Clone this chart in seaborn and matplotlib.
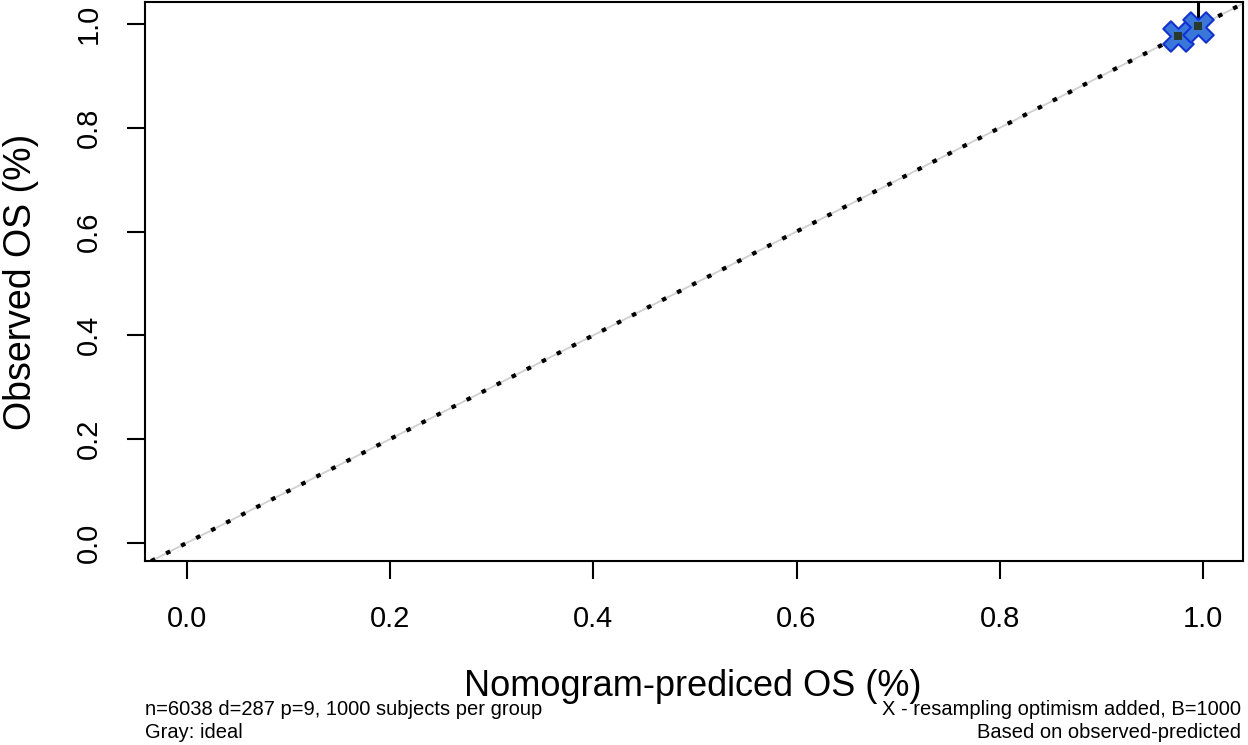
import matplotlib
matplotlib.use("Agg")
import matplotlib.pyplot as plt
import seaborn as sns
import numpy as np
import pandas as pd

# Data
ideal_x = [-0.05, 1.05]
ideal_y = [-0.05, 1.05]
pred = [0.9755, 0.9950]
observed = [0.9775, 0.9960]
corrected = [0.9770, 0.9950]
ci_lower = [0.9700, 0.9850]
ci_upper = [0.9860, 1.0600]
x_ticks = [0.0, 0.2, 0.4, 0.6, 0.8, 1.0]
y_ticks = [0.0, 0.2, 0.4, 0.6, 0.8, 1.0]

sns.set_theme(style="white")
plt.rcParams['font.family'] = ['Liberation Sans', 'DejaVu Sans']

fig = plt.figure(figsize=(12.48, 7.45), dpi=100)
ax = fig.add_axes([0.116, 0.247, 0.880, 0.750])

ideal = pd.DataFrame({"x": ideal_x, "y": ideal_y})
sns.lineplot(data=ideal, x="x", y="y", ax=ax, color="#d0d0d0", lw=1.3, zorder=1)
dl = sns.lineplot(data=ideal, x="x", y="y", ax=ax, color="black", lw=3.0,
                  linestyle=(0, (1.1, 2.95)), zorder=2).lines[-1]
dl.set_dash_capstyle("butt")

cal = pd.DataFrame({"pred": pred, "obs": observed, "cor": corrected})
# error bars
for p, lo, hi in zip(pred, ci_lower, ci_upper):
    ax.plot([p, p], [lo, hi], color="black", lw=2.2, zorder=3)
sns.lineplot(data=cal, x="pred", y="obs", ax=ax, color="black", lw=1.5, zorder=3)
sns.scatterplot(data=cal, x="pred", y="cor", ax=ax, marker="X", s=480,
                color="#3a78d8", edgecolor="#1030e0", linewidth=1.5, zorder=4)
sns.scatterplot(data=cal, x="pred", y="obs", ax=ax, marker="s", s=30,
                color="#2a3a2a", edgecolor="none", zorder=5)

ax.set_xlim(-0.0414, 1.0394)
ax.set_ylim(-0.035, 1.042)
ax.set_xticks(x_ticks)
ax.set_yticks(y_ticks)
ax.set_xticklabels([f"{v:.1f}" for v in x_ticks], fontsize=21)
ax.set_yticklabels([f"{v:.1f}" for v in y_ticks], fontsize=21, rotation=90, va="center")
ax.tick_params(axis="both", direction="out", length=13, width=1.5, color="black",
               labelcolor="black", bottom=True, left=True)
ax.tick_params(axis="x", pad=19)
ax.tick_params(axis="y", pad=17)
for s in ax.spines.values():
    s.set_visible(True)
    s.set_color("black")
    s.set_linewidth(1.5)

ax.set_xlabel("")
ax.set_ylabel("")
fig.text(0.555, 0.078, "Nomogram-prediced OS (%)", fontsize=26, ha="center", va="center", color="black")
fig.text(0.017, 0.621, "Observed OS (%)", fontsize=27, ha="center", va="center",
         rotation=90, color="black")

fig.text(0.116, 0.048, "n=6038 d=287 p=9, 1000 subjects per group", fontsize=14.5,
         ha="left", va="center", color="black")
fig.text(0.116, 0.017, "Gray: ideal", fontsize=14.5, ha="left", va="center", color="black")
fig.text(0.994, 0.048, "X - resampling optimism added, B=1000", fontsize=14.5,
         ha="right", va="center", color="black")
fig.text(0.994, 0.017, "Based on observed-predicted", fontsize=14.5,
         ha="right", va="center", color="black")

fig.savefig("out.png", dpi=100)
